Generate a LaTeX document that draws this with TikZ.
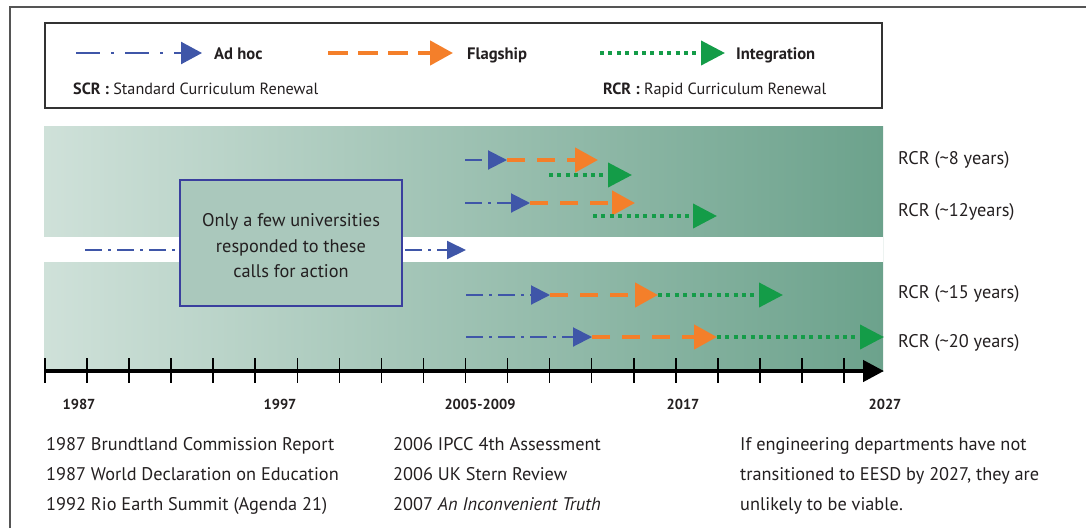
\documentclass[tikz,border=0pt]{standalone}
\usepackage{fontspec}
\setmainfont{PT Sans}
\usetikzlibrary{arrows.meta}
\definecolor{adblue}{HTML}{3F56A8}
\definecolor{florange}{HTML}{F47F2A}
\definecolor{ingreen}{HTML}{149C48}
\definecolor{gleft}{HTML}{CFE1D9}
\definecolor{gright}{HTML}{6CA28C}
\definecolor{boxfill}{HTML}{AAC8BC}
\definecolor{boxline}{HTML}{3A3F9E}
\definecolor{txt}{HTML}{231F20}
\definecolor{framegray}{HTML}{555555}
\tikzset{
  x=1pt, y=-1pt,
  adhoc/.style={draw=adblue, line width=2pt, dash pattern=on 17pt off 6pt on 3pt off 6pt,
    -{Triangle[length=19pt,width=19pt]}},
  adhocleg/.style={draw=adblue, line width=2.4pt, dash pattern=on 24pt off 11pt on 3pt off 11pt,
    -{Triangle[length=21pt,width=22pt]}},
  flag/.style={draw=florange, line width=4.5pt, dash pattern=on 18pt off 12pt,
    -{Triangle[length=23pt,width=24pt]}},
  flagleg/.style={draw=florange, line width=4.5pt, dash pattern=on 20pt off 10pt,
    -{Triangle[length=23pt,width=24pt]}},
  integ/.style={draw=ingreen, line width=4pt, dash pattern=on 4pt off 4.4pt,
    -{Triangle[length=24pt,width=24pt]}},
  lbl/.style={text=txt, font=\fontsize{18.3}{22}\selectfont, inner sep=0pt},
  leglbl/.style={text=txt, font=\fontsize{16.6}{19}\selectfont\bfseries, inner sep=0pt, anchor=base west},
  legtxt/.style={text=txt, font=\fontsize{16.2}{19}\selectfont, inner sep=0pt, anchor=base west},
  yearlbl/.style={text=txt, font=\fontsize{14.5}{17}\selectfont\bfseries, inner sep=0pt},
  rcr/.style={lbl, anchor=base west},
  foot/.style={lbl, anchor=base west},
  callout/.style={draw=boxline, line width=1.1pt, fill=boxfill, minimum width=222pt, minimum height=126pt, inner sep=0pt},
}
\begin{document}
\begin{tikzpicture}
\useasboundingbox (0,0) rectangle (1086,528);
% outer frame
\draw[framegray, line width=1.5pt] (10,528) -- (10,7) -- (1086,7);
% legend
\draw[black!80, line width=1.2pt] (45,23) rectangle (882,108);
\coordinate (la1) at (76,53);  \coordinate (la2) at (202,53);
\coordinate (lf1) at (328,53); \coordinate (lf2) at (453,53);
\coordinate (li1) at (600,53); \coordinate (li2) at (725,53);
\draw[adhocleg] (la1) -- (la2);
\draw[flagleg] (lf1) -- (lf2);
\draw[integ] (li1) -- (li2);
\node[leglbl] (tadhoc) at (214,59) {Ad hoc};
\node[leglbl] (tflag) at (467,59) {Flagship};
\node[leglbl] (tinteg) at (736,59) {Integration};
\node[legtxt] (tscr) at (73,94) {\textbf{SCR :} Standard Curriculum Renewal};
\node[legtxt] (trcr) at (603,94) {\textbf{RCR :} Rapid Curriculum Renewal};
% band
\shade[left color=gleft, right color=gright] (44,126) rectangle (883,371);
\fill[white] (44,237) rectangle (883,262);
% white strip arrow
\coordinate (w1) at (85,250); \coordinate (w2) at (466,250);
\draw[adhoc, -{Triangle[length=19pt,width=18pt]}] (w1) -- (w2);
\node[callout] (callbox) at (291,243) {};
\node[lbl, align=center, font=\fontsize{18.3}{25.5}\selectfont] (calltext) at (291,246)
  {Only a few universities\\responded to these\\calls for action};
% row 1
\coordinate (a1) at (465,160); \coordinate (b1) at (507,160); \coordinate (c1) at (598,160);
\coordinate (g1a) at (549,175); \coordinate (g1b) at (632,175);
\draw[adhoc] (a1) -- (b1);
\draw[flag] (b1) -- (c1);
\draw[integ] (g1a) -- (g1b);
% row 2
\coordinate (a2) at (465,203); \coordinate (b2) at (530,203); \coordinate (c2) at (635,203);
\coordinate (g2a) at (593,216); \coordinate (g2b) at (717,216);
\draw[adhoc] (a2) -- (b2);
\draw[flag] (b2) -- (c2);
\draw[integ] (g2a) -- (g2b);
% row 3
\coordinate (a3) at (466,295); \coordinate (b3) at (550,295); \coordinate (c3) at (658,295); \coordinate (d3) at (783,295);
\draw[adhoc] (a3) -- (b3);
\draw[flag] (b3) -- (c3);
\draw[integ] (c3) -- (d3);
% row 4
\coordinate (a4) at (466,337); \coordinate (b4) at (592,337); \coordinate (c4) at (717,337); \coordinate (d4) at (884,337);
\draw[adhoc] (a4) -- (b4);
\draw[flag] (b4) -- (c4);
\draw[integ] (c4) -- (d4);
% RCR labels
\node[rcr] (r1) at (898,164) {RCR (\textasciitilde 8 years)};
\node[rcr] (r2) at (898,216) {RCR (\textasciitilde 12years)};
\node[rcr] (r3) at (898,298) {RCR (\textasciitilde 15 years)};
\node[rcr] (r4) at (898,347) {RCR (\textasciitilde 20 years)};
% axis
\coordinate (ax1) at (44,371); \coordinate (ax2) at (884,371);
\draw[black, line width=4.5pt, -{Triangle[length=21pt,width=21pt]}] (ax1) -- (ax2);
\foreach \i in {0,...,19} {
  \draw[black, line width=1.6pt] ({45+42.05*\i},358) -- ({45+42.05*\i},383);
}
\node[yearlbl] (y1) at (79,404) {1987};
\node[yearlbl] (y2) at (280,404) {1997};
\node[yearlbl] (y3) at (480,404) {2005-2009};
\node[yearlbl] (y4) at (683,404) {2017};
\node[yearlbl] (y5) at (885,404) {2027};
% footnotes
\node[foot] (f11) at (46,450) {1987 Brundtland Commission Report};
\node[foot] (f12) at (46,480) {1987 World Declaration on Education};
\node[foot] (f13) at (46,510) {1992 Rio Earth Summit (Agenda 21)};
\node[foot] (f21) at (393,450) {2006 IPCC 4th Assessment};
\node[foot] (f22) at (393,480) {2006 UK Stern Review};
\node[foot] (f23) at (393,510) {2007 \textit{An Inconvenient Truth}};
\node[foot] (f31) at (740,450) {If engineering departments have not};
\node[foot] (f32) at (740,480) {transitioned to EESD by 2027, they are};
\node[foot] (f33) at (740,510) {unlikely to be viable.};
\end{tikzpicture}
\end{document}
